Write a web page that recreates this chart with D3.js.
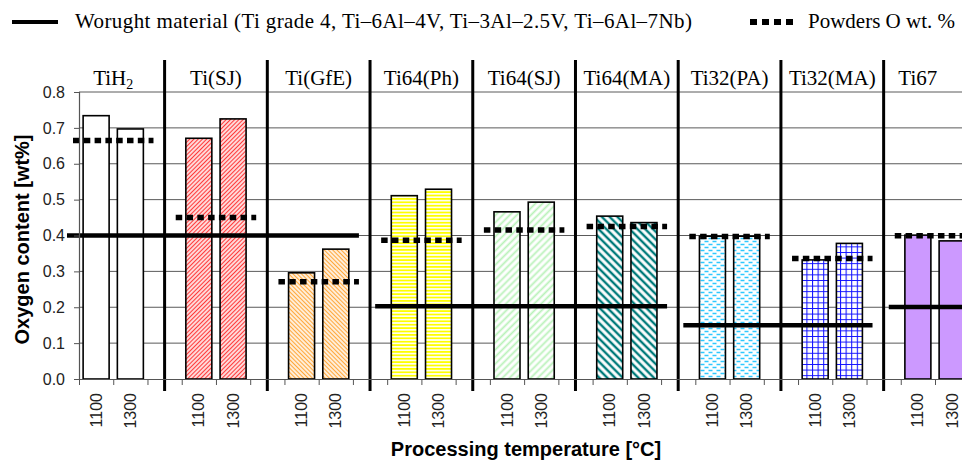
<!DOCTYPE html>
<html>
<head>
<meta charset="utf-8">
<script src="https://cdn.jsdelivr.net/npm/d3@7"></script>
<style>
  body { margin: 0; background: #fff; overflow: hidden; }
  svg { display: block; }
  .serif { font-family: "Liberation Serif", "Times New Roman", serif; fill: #000; }
  .sans { font-family: "Liberation Sans", Arial, sans-serif; }
  .axis path, .axis line { stroke: #555; }
  .axis text { font-family: "Liberation Sans", Arial, sans-serif; font-size: 16px; fill: #222; }
</style>
</head>
<body>
<svg id="chart"></svg>
<script>
// powder groups and the two sintering temperatures
const groups = ['TiH2', 'Ti(SJ)', 'Ti(GfE)', 'Ti64(Ph)', 'Ti64(SJ)', 'Ti64(MA)', 'Ti32(PA)', 'Ti32(MA)', 'Ti67'];
const temps = ['1100', '1300'];

// oxygen content of sintered parts [wt%]
const oxygen1100 = [0.734, 0.671, 0.296, 0.511, 0.466, 0.454, 0.398, 0.332, 0.401];
const oxygen1300 = [0.697, 0.725, 0.362, 0.529, 0.493, 0.436, 0.398, 0.378, 0.385];

// oxygen content of the starting powders
const powderOxygen = [0.665, 0.450, 0.271, 0.387, 0.415, 0.425, 0.397, 0.336, 0.399];

// wrought material limits, each spanning a run of groups
const wroughtFirst = [0, 3, 6, 8];
const wroughtLast = [2, 5, 7, 8];
const wroughtOxygen = [0.40, 0.203, 0.150, 0.201];

const yTicks = [0, 0.1, 0.2, 0.3, 0.4, 0.5, 0.6, 0.7, 0.8];

const width = 962, height = 462;
const plotLeft = 79, plotTop = 92, plotBottom = 379;
const slotWidth = 34.24;
const barWidth = 26;

const svg = d3.select('#chart')
    .attr('width', width)
    .attr('height', height);

// each group gets three slots: 1100, 1300 and an empty one
const slots = groups.flatMap(g => [g + '|1100', g + '|1300', g + '|gap']);

const x = d3.scaleBand()
    .domain(slots)
    .range([plotLeft, plotLeft + slots.length * slotWidth]);

const xEdges = d3.scaleLinear()
    .domain([0, slots.length])
    .range([plotLeft, plotLeft + slots.length * slotWidth]);

const y = d3.scaleLinear()
    .domain([0, 0.8])
    .range([plotBottom, plotTop]);

// fill patterns
const defs = svg.append('defs');

function hatch(id, color, step, lw, angle, bg) {
    const p = defs.append('pattern')
        .attr('id', id)
        .attr('patternUnits', 'userSpaceOnUse')
        .attr('width', step)
        .attr('height', step)
        .attr('patternTransform', `rotate(${angle})`);
    p.append('rect').attr('width', step).attr('height', step).attr('fill', bg || '#fff');
    p.append('line')
        .attr('x1', step / 2).attr('x2', step / 2)
        .attr('y1', 0).attr('y2', step)
        .attr('stroke', color)
        .attr('stroke-width', lw);
}

hatch('pSJ', '#ff3b3b', 3, 1.4, 45);
hatch('pGfE', '#ffa83c', 3, 1.4, -45);
hatch('pPh', '#ffff00', 3.4, 1.8, 90);
hatch('pSJ64', '#b9f2b9', 5, 1.8, 45);
hatch('pMA64', '#007b7b', 5.5, 2.4, -45);

const dash = defs.append('pattern')
    .attr('id', 'pPA')
    .attr('patternUnits', 'userSpaceOnUse')
    .attr('width', 8)
    .attr('height', 6);
dash.append('rect').attr('width', 8).attr('height', 6).attr('fill', '#fff');
dash.append('path')
    .attr('d', 'M0.5,1.5H4.5M4.5,4.5H8.5M-3.5,4.5H0.5')
    .attr('stroke', '#2ec8ff')
    .attr('stroke-width', 1.3);

const grid = defs.append('pattern')
    .attr('id', 'pMA32')
    .attr('patternUnits', 'userSpaceOnUse')
    .attr('width', 5.6)
    .attr('height', 5.6);
grid.append('rect').attr('width', 5.6).attr('height', 5.6).attr('fill', '#fff');
grid.append('path')
    .attr('d', 'M0,0.5H5.6M0.5,0V5.6')
    .attr('stroke', '#1010ff')
    .attr('stroke-width', 1.1);

const groupFill = ['#fff', 'url(#pSJ)', 'url(#pGfE)', 'url(#pPh)', 'url(#pSJ64)',
    'url(#pMA64)', 'url(#pPA)', 'url(#pMA32)', '#cc99ff'];

// horizontal gridlines
svg.append('g')
    .selectAll('line')
    .data(yTicks.filter(d => d > 0))
    .join('line')
        .attr('x1', plotLeft)
        .attr('x2', width)
        .attr('y1', d => y(d))
        .attr('y2', d => y(d))
        .attr('stroke', '#5a5a5a')
        .attr('stroke-width', 1);

// bars
const bars = groups.flatMap((g, i) => [
    {group: g, idx: i, temp: temps[0], value: oxygen1100[i]},
    {group: g, idx: i, temp: temps[1], value: oxygen1300[i]}
]);

svg.append('g')
    .selectAll('rect')
    .data(bars)
    .join('rect')
        .attr('x', d => x(d.group + '|' + d.temp) + (x.bandwidth() - barWidth) / 2)
        .attr('y', d => y(d.value))
        .attr('width', barWidth)
        .attr('height', d => y(0) - y(d.value))
        .attr('fill', d => groupFill[d.idx])
        .attr('stroke', '#000')
        .attr('stroke-width', 1.6);

// wrought material lines
svg.append('g')
    .selectAll('line')
    .data(wroughtOxygen.map((v, i) => ({value: v, first: wroughtFirst[i], last: wroughtLast[i]})))
    .join('line')
        .attr('x1', d => x(groups[d.first] + '|1100') - 12)
        .attr('x2', d => x(groups[d.last] + '|1300') + x.bandwidth() + 6)
        .attr('y1', d => y(d.value))
        .attr('y2', d => y(d.value))
        .attr('stroke', '#000')
        .attr('stroke-width', 4.5);

// powder oxygen dotted lines
svg.append('g')
    .selectAll('line')
    .data(powderOxygen.map((v, i) => ({value: v, group: groups[i]})))
    .join('line')
        .attr('x1', d => x(d.group + '|1100') - 6)
        .attr('x2', d => x(d.group + '|1300') + x.bandwidth() + 6)
        .attr('y1', d => y(d.value))
        .attr('y2', d => y(d.value))
        .attr('stroke', '#000')
        .attr('stroke-width', 5.5)
        .attr('stroke-dasharray', '6.5,4.3');

// group separators
svg.append('g')
    .selectAll('line')
    .data(groups.slice(0, -1))
    .join('line')
        .attr('x1', g => x(g + '|gap') + x.bandwidth() / 2)
        .attr('x2', g => x(g + '|gap') + x.bandwidth() / 2)
        .attr('y1', 60)
        .attr('y2', 391)
        .attr('stroke', '#000')
        .attr('stroke-width', 3);

// group labels
const labels = svg.append('g')
    .selectAll('text')
    .data(groups)
    .join('text')
        .attr('class', 'serif')
        .attr('x', (g, i) => {
            const c = (x(g + '|1100') + x(g + '|1300') + x.bandwidth()) / 2;
            const left = i > 0 ? x(groups[i - 1] + '|gap') + x.bandwidth() / 2 : plotLeft;
            return Math.min(c, (left + width) / 2 - 5);
        })
        .attr('y', 85)
        .attr('text-anchor', 'middle')
        .style('font-size', '21px');

labels.each(function(g) {
    const t = d3.select(this);
    if (g === 'TiH2') {
        t.append('tspan').text('TiH');
        t.append('tspan').text('2').attr('dy', 4).style('font-size', '14px');
    } else {
        t.text(g);
    }
});

// y axis
svg.append('g')
    .attr('class', 'axis')
    .attr('transform', `translate(${plotLeft},0)`)
    .call(d3.axisLeft(y).tickValues(yTicks).tickFormat(d3.format('.1f')).tickSize(5).tickPadding(9))
    .call(g => g.select('.domain').attr('stroke-width', 1.2));

// x axis: tick marks at slot edges
svg.append('g')
    .attr('class', 'axis')
    .attr('transform', `translate(0,${plotBottom})`)
    .call(d3.axisBottom(xEdges).tickValues(d3.range(0, slots.length + 1)).tickFormat('').tickSize(6).tickSizeOuter(0))
    .call(g => g.select('.domain').attr('stroke-width', 1.2));

// x axis: temperature labels
svg.append('g')
    .attr('class', 'axis')
    .attr('transform', `translate(0,${plotBottom})`)
    .call(d3.axisBottom(x).tickSize(0).tickFormat(s => {
        const t = s.split('|')[1];
        return t === 'gap' ? '' : t;
    }))
    .call(g => g.select('.domain').remove())
    .call(g => g.selectAll('text')
        .attr('transform', 'rotate(-90)')
        .attr('text-anchor', 'end')
        .attr('x', -14)
        .attr('y', 0)
        .attr('dy', '0.35em'));

// axis titles
svg.append('text')
    .attr('class', 'sans')
    .attr('transform', `translate(29,${(plotTop + plotBottom) / 2 + 4}) rotate(-90)`)
    .attr('text-anchor', 'middle')
    .style('font-size', '20px')
    .style('font-weight', 'bold')
    .text('Oxygen content [wt%]');

svg.append('text')
    .attr('class', 'sans')
    .attr('x', 526)
    .attr('y', 456)
    .attr('text-anchor', 'middle')
    .style('font-size', '20px')
    .style('font-weight', 'bold')
    .text('Processing temperature [°C]');

// legend
const legend = svg.append('g');
legend.append('line')
    .attr('x1', 12).attr('x2', 58)
    .attr('y1', 22).attr('y2', 22)
    .attr('stroke', '#000')
    .attr('stroke-width', 4);
legend.append('text')
    .attr('class', 'serif')
    .attr('x', 75)
    .attr('y', 28)
    .style('font-size', '21px')
    .style('letter-spacing', '0.4px')
    .text('Worught material (Ti grade 4, Ti–6Al–4V, Ti–3Al–2.5V, Ti–6Al–7Nb)');
legend.append('line')
    .attr('x1', 750).attr('x2', 797)
    .attr('y1', 22).attr('y2', 22)
    .attr('stroke', '#000')
    .attr('stroke-width', 6)
    .attr('stroke-dasharray', '7,5');
legend.append('text')
    .attr('class', 'serif')
    .attr('x', 808)
    .attr('y', 28)
    .style('font-size', '21px')
    .text('Powders O wt. %');
</script>
</body>
</html>
